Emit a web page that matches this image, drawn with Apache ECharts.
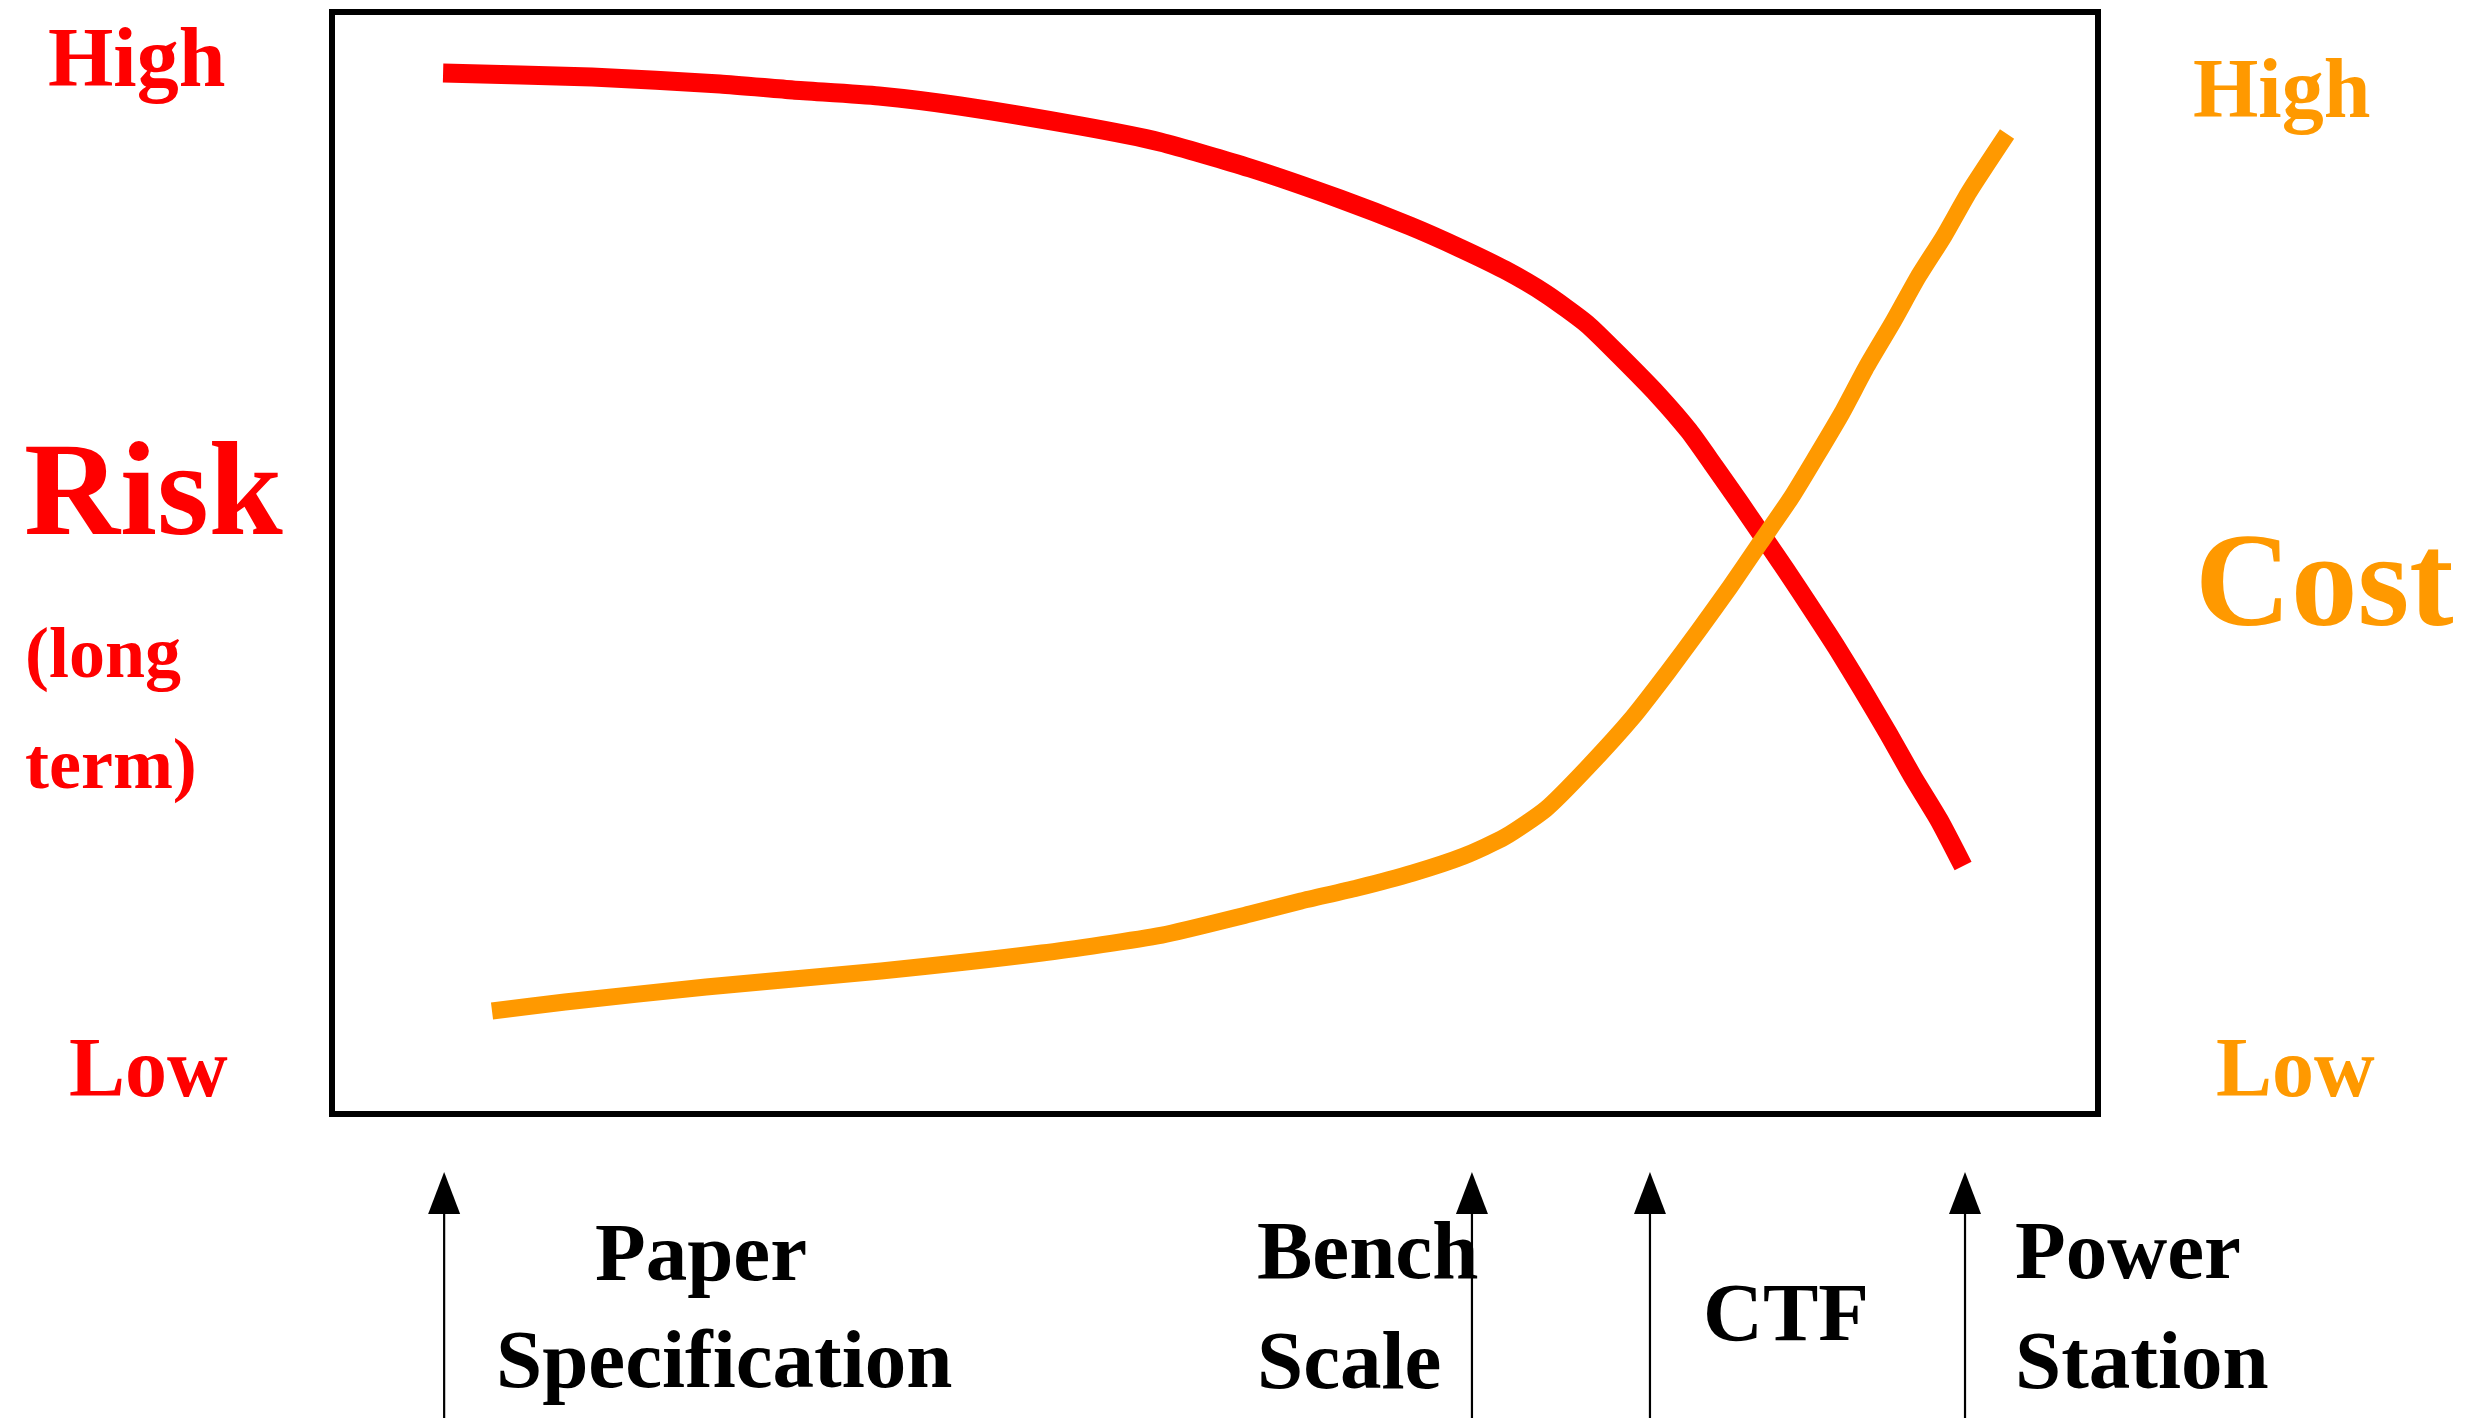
<!DOCTYPE html>
<html>
<head>
<meta charset="utf-8">
<script src="https://cdn.jsdelivr.net/npm/echarts@6/dist/echarts.min.js"></script>
<style>
html,body{margin:0;padding:0;background:#fff;}
#chart{width:2469px;height:1418px;}
</style>
</head>
<body>
<div id="chart"></div>
<script>
// Positions along the development path, in percent of the plot width; levels in percent of plot height
var riskX = [6.29,14.72,21.97,26.10,30.97,35.56,42.36,46.89,51.98,57.08,61.04,63.87,66.42,68.74,71.06,72.93,75.08,76.84,78.26,79.73,80.86,82.33,83.75,85.22,86.64,88.11,89.52,91.00,92.36];
var riskY = [94.46,94.10,93.47,92.92,92.38,91.47,89.66,88.20,85.84,83.03,80.58,78.58,76.59,74.41,71.69,68.78,65.25,61.98,58.80,55.44,52.81,49.36,45.92,42.29,38.57,34.57,30.58,26.68,22.50];
var costX = [9.06,13.19,21.18,31.09,40.20,47.00,51.98,54.87,58.04,61.21,64.10,66.42,68.74,71.06,73.67,75.65,77.41,79.16,80.86,82.62,84.03,85.50,86.92,88.39,89.81,91.28,92.70,94.85];
var costY = [9.35,10.16,11.52,12.98,14.61,16.24,18.15,19.33,20.51,21.87,23.41,25.14,27.68,31.40,36.03,40.11,43.92,47.82,51.81,55.90,59.62,63.61,67.88,71.87,75.95,79.67,83.67,88.93];
var stageNames = ['Paper Specification','Bench Scale','CTF','Power Station'];
var stageX = [6.35, 64.55, 74.63, 92.47];

function pairs(xs, ys){ return xs.map(function(x,i){ return [x, ys[i]]; }); }

var RED = '#FF0000', ORANGE = '#FF9900', FONT = '"Liberation Serif", "Times New Roman", serif';
function txt(t, x, baseline, size, color){
  return {type:'text', x:x, y:baseline - 0.26*size, z:10,
    style:{text:t, x:0, y:0, fill:color, font:'bold ' + size + 'px ' + FONT, verticalAlign:'middle', align:'left'}};
}

var chart = echarts.init(document.getElementById('chart'), null, {renderer:'canvas'});
chart.setOption({
  animation:false,
  backgroundColor:'#fff',
  grid:{left:332, top:12, width:1766, height:1102, show:true, borderColor:'#000', borderWidth:6, backgroundColor:'transparent'},
  xAxis:{type:'value', min:0, max:100, show:false},
  yAxis:{type:'value', min:0, max:100, show:false},
  series:[
    {name:'Risk', type:'line', data:pairs(riskX, riskY), smooth:0.2, showSymbol:false, symbol:'none',
     lineStyle:{color:RED, width:19, cap:'butt', join:'round'}, z:3},
    {name:'Cost', type:'line', data:pairs(costX, costY), smooth:0.2, showSymbol:false, symbol:'none',
     lineStyle:{color:ORANGE, width:17, cap:'butt', join:'round'}, z:4},
    {name:'Stages', type:'custom', clip:false, z:5,
     data:stageX.map(function(x,i){ return [x, 0, stageNames[i]]; }),
     renderItem:function(params, api){
       var base = api.coord([api.value(0), 0]);
       var x = base[0], tip = base[1] + 58, headLen = 42, half = 16;
       return {type:'group', children:[
         {type:'line', shape:{x1:x, y1:tip + headLen - 2, x2:x, y2:1418}, style:{stroke:'#000', lineWidth:2.2}},
         {type:'polygon', shape:{points:[[x, tip],[x-half, tip+headLen],[x+half, tip+headLen]]}, style:{fill:'#000'}}
       ]};
     }}
  ],
  graphic:[
    txt('High', 48, 86, 84, RED),
    txt('Risk', 24, 534, 133, RED),
    txt('(long', 25, 677, 72, RED),
    txt('term)', 25, 788, 72, RED),
    txt('Low', 69, 1096, 84, RED),
    txt('High', 2193, 117, 84, ORANGE),
    txt('Cost', 2195, 625, 133, ORANGE),
    txt('Low', 2216, 1096, 84, ORANGE),
    txt('Paper', 595, 1280, 83, '#000'),
    txt('Specification', 496, 1387, 83, '#000'),
    txt('Bench', 1257, 1278, 83, '#000'),
    txt('Scale', 1257, 1388, 83, '#000'),
    txt('CTF', 1703, 1340, 83, '#000'),
    txt('Power', 2015, 1278, 83, '#000'),
    txt('Station', 2015, 1388, 83, '#000')
  ]
});
</script>
</body>
</html>
